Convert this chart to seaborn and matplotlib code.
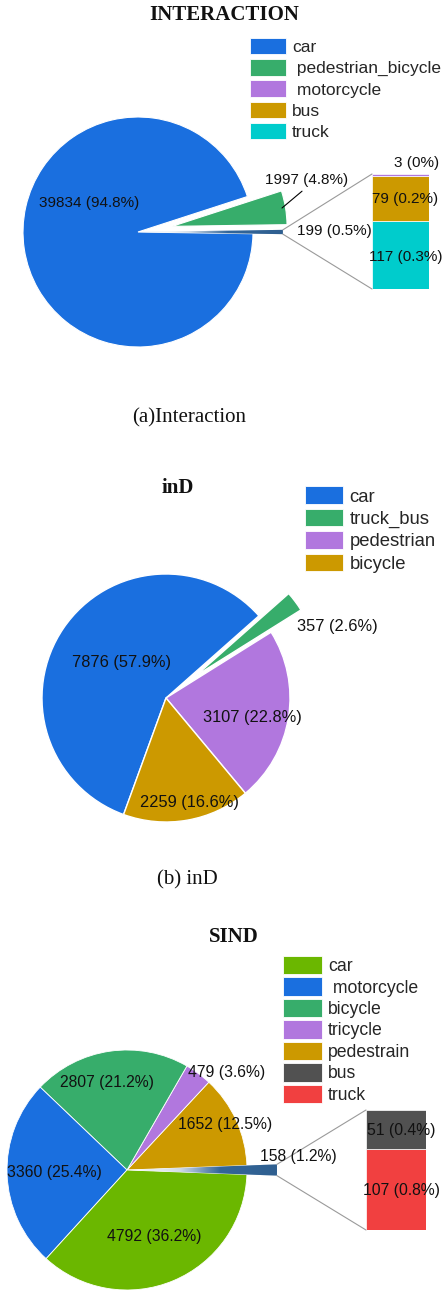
import numpy as np
import matplotlib
matplotlib.use("Agg")
import matplotlib.pyplot as plt
import seaborn as sns
from matplotlib.patches import Patch, ConnectionPatch
from matplotlib.colors import LinearSegmentedColormap

# ---------------- data ----------------
int_pie_labels = ["other", "pedestrian_bicycle", "car"]
int_pie_values = [199, 1997, 39834]
int_bar_labels = ["truck", "bus", "motorcycle"]
int_bar_values = [117, 79, 3]
int_legend = ["car", " pedestrian_bicycle", " motorcycle", "bus", "truck"]

ind_labels = ["car", "truck_bus", "pedestrian", "bicycle"]
ind_values = [7876, 357, 3107, 2259]
ind_legend = ["car", "truck_bus", "pedestrian", "bicycle"]

sind_pie_labels = ["other", "pedestrain", "tricycle", "bicycle", "motorcycle", "car"]
sind_pie_values = [158, 1652, 479, 2807, 3360, 4792]
sind_bar_labels = ["truck", "bus"]
sind_bar_values = [107, 51]
sind_legend = ["car", " motorcycle", "bicycle", "tricycle", "pedestrain", "bus", "truck"]

titles = ["INTERACTION", "inD", "SIND"]
captions = ["(a)Interaction", "(b) inD"]

# ---------------- style ----------------
sns.set_theme(style="white")
plt.rcParams["font.family"] = ["Liberation Sans", "DejaVu Sans"]

BLUE, GREEN, PURPLE, GOLD = "#1a6fdf", "#37ad6b", "#b177de", "#cc9900"
CYAN, GRAY, RED, LIME, STEEL = "#00cccc", "#515151", "#f14040", "#6bb700", "#336699"

int_colors = {"other": STEEL, "pedestrian_bicycle": GREEN, "car": BLUE,
              "motorcycle": PURPLE, "bus": GOLD, "truck": CYAN}
ind_colors = {"car": BLUE, "truck_bus": GREEN, "pedestrian": PURPLE, "bicycle": GOLD}
sind_colors = {"other": STEEL, "pedestrain": GOLD, "tricycle": PURPLE, "bicycle": GREEN,
               "motorcycle": BLUE, "car": LIME, "bus": GRAY, "truck": RED}

W, H = 443, 1290
fig = plt.figure(figsize=(W / 100, H / 100), dpi=100)
fig.patch.set_facecolor("white")


def fx(x):
    return x / W


def fy(y):
    return 1 - y / H


def pct(v, total):
    s = f"{round(v / total * 100, 1):.1f}"
    if s.endswith(".0"):
        s = s[:-2]
    return f"{v} ({s}%)"


def pie_axes(cx, cy, r, ext=1.6):
    s = r * ext
    ax = fig.add_axes([fx(cx - s), fy(cy + s), 2 * s / W, 2 * s / H])
    return ax, ext


def finish(ax, ext):
    ax.set_xlim(-ext, ext)
    ax.set_ylim(-ext, ext)
    ax.set_aspect("equal")
    ax.axis("off")


grad_cmap = LinearSegmentedColormap.from_list(
    "grad", [(0, "white"), (0.35, "#d3dde8"), (0.62, STEEL), (1, "#2f5f90")])


def gradient_wedge(ax, w, rad):
    w.set_radius(rad)
    im = ax.imshow(np.linspace(0, 1, 256)[None, :], extent=[0, rad, -0.15, 0.15],
                   cmap=grad_cmap, aspect="auto", interpolation="bilinear",
                   zorder=w.get_zorder() + 0.1)
    im.set_clip_path(w)


def bar_axes(x0, top, w, h, labels, values, colors):
    bax = fig.add_axes([fx(x0), fy(top + h), w / W, h / H])
    bottom = 0
    for lab, v in zip(labels, values):
        bax.bar(0, v, width=1, bottom=bottom, color=colors[lab],
                edgecolor="white", linewidth=0.5)
        bottom += v
    bax.set_xlim(-0.5, 0.5)
    bax.set_ylim(0, sum(values))
    bax.axis("off")
    return bax


def connect(ax, w, bax, total):
    for theta, yb in [(w.theta2, total), (w.theta1, 0)]:
        x = w.r * np.cos(np.deg2rad(theta))
        y = w.r * np.sin(np.deg2rad(theta))
        con = ConnectionPatch(xyA=(-0.5, yb), coordsA=bax.transData,
                              xyB=(x, y), coordsB=ax.transData,
                              color="#9a9a9a", lw=0.8)
        fig.add_artist(con)


def ftext(x, y, s, fs, **kw):
    fig.text(fx(x), fy(y), s, ha=kw.pop("ha", "center"), va=kw.pop("va", "center"),
             fontsize=fs, color="#111111", **kw)


def legend(x, y, labels, colors, fs, hl, hh, ls):
    handles = [Patch(facecolor=c, edgecolor="#ffffff", linewidth=0.6) for c in colors]
    fig.legend(handles, labels, loc="upper left", bbox_to_anchor=(fx(x), fy(y)),
               frameon=False, borderpad=0, borderaxespad=0, fontsize=fs,
               handlelength=hl, handleheight=hh, labelspacing=ls, handletextpad=0.35)


serif = ["Liberation Serif", "DejaVu Serif"]

# ================= (a) INTERACTION =================
tot_a = sum(int_pie_values)
ax, ext = pie_axes(138, 232, 115)
wedges, _ = ax.pie(int_pie_values, colors=[int_colors[l] for l in int_pie_labels],
                   startangle=-180 * int_pie_values[0] / tot_a, counterclock=True,
                   explode=[0, 0.3, 0], radius=1, frame=True,
                   wedgeprops=dict(edgecolor="white", linewidth=0.8))
gradient_wedge(ax, wedges[0], 1.26)
finish(ax, ext)
bax = bar_axes(372, 174, 57, 115, int_bar_labels, int_bar_values, int_colors)
connect(ax, wedges[0], bax, sum(int_bar_values))

ftext(224.5, 19.5, titles[0], 15, va="baseline", fontweight="bold", family=serif)
ftext(89, 203, pct(int_pie_values[2], tot_a), 11)
fig.add_artist(plt.Annotation(pct(int_pie_values[1], tot_a), xy=(fx(282), fy(208)),
                              xycoords="figure fraction",
                              xytext=(fx(307), fy(180)), textcoords="figure fraction",
                              ha="center", va="center", fontsize=11, color="#111111",
                              arrowprops=dict(arrowstyle="-", color="black", lw=0.8,
                                              relpos=(0.5, 0), shrinkA=1, shrinkB=0)))
ftext(334, 231, pct(int_pie_values[0], tot_a), 11)
ftext(417, 163, pct(int_bar_values[2], tot_a), 11)
ftext(405, 199, pct(int_bar_values[1], tot_a), 11)
ftext(406, 257, pct(int_bar_values[0], tot_a), 11)
legend(250, 38, int_legend,
       [int_colors["car"], int_colors["pedestrian_bicycle"], int_colors["motorcycle"],
        int_colors["bus"], int_colors["truck"]], 12.5, 2.07, 1.085, 0.23)
ftext(189, 422.5, captions[0], 15, va="baseline", family=serif)

# ================= (b) inD =================
tot_b = sum(ind_values)
ax, ext = pie_axes(166, 698, 124)
frac_car = ind_values[0] / tot_b
wedges, _ = ax.pie(ind_values, colors=[ind_colors[l] for l in ind_labels],
                   startangle=41.5 + 360 * frac_car, counterclock=False,
                   explode=[0, 0.3, 0, 0], radius=1, frame=True,
                   wedgeprops=dict(edgecolor="white", linewidth=1))
finish(ax, ext)
ftext(178, 493, titles[1], 15, va="baseline", fontweight="bold", family=serif)
ftext(121, 663, pct(ind_values[0], tot_b), 11.8)
ftext(337, 626, pct(ind_values[1], tot_b), 11.8)
ftext(252, 717, pct(ind_values[2], tot_b), 11.8)
ftext(189, 802, pct(ind_values[3], tot_b), 11.8)
legend(305, 486.5, ind_legend, [ind_colors[l] for l in ind_labels], 13.3, 2.07, 1.097, 0.17)
ftext(187, 884, captions[1], 15, va="baseline", family=serif)

# ================= (c) SIND =================
tot_c = sum(sind_pie_values)
ax, ext = pie_axes(127, 1170, 120)
wedges, _ = ax.pie(sind_pie_values, colors=[sind_colors[l] for l in sind_pie_labels],
                   startangle=-180 * sind_pie_values[0] / tot_c, counterclock=True,
                   radius=1, frame=True,
                   wedgeprops=dict(edgecolor="white", linewidth=0.6))
gradient_wedge(ax, wedges[0], 1.25)
finish(ax, ext)
bax = bar_axes(366, 1110, 60, 120, sind_bar_labels, sind_bar_values, sind_colors)
connect(ax, wedges[0], bax, sum(sind_bar_values))

ftext(234, 942.5, titles[2], 15, va="baseline", fontweight="bold", family=serif)
ftext(154, 1237, pct(sind_pie_values[5], tot_c), 11.3)
ftext(54, 1173, pct(sind_pie_values[4], tot_c), 11.3)
ftext(107, 1083, pct(sind_pie_values[3], tot_c), 11.3)
ftext(227, 1072, pct(sind_pie_values[2], tot_c), 11.3)
ftext(225, 1125, pct(sind_pie_values[1], tot_c), 11.3)
ftext(298, 1156, pct(sind_pie_values[0], tot_c), 11.3)
ftext(401, 1130, pct(sind_bar_values[1], tot_c), 11.3)
ftext(401, 1190, pct(sind_bar_values[0], tot_c), 11.3)
legend(283, 956, sind_legend,
       [sind_colors[k] for k in ["car", "motorcycle", "bicycle", "tricycle",
                                 "pedestrain", "bus", "truck"]], 12.7, 2.21, 1.23, 0.13)

fig.savefig("out.png", dpi=100, facecolor="white")
